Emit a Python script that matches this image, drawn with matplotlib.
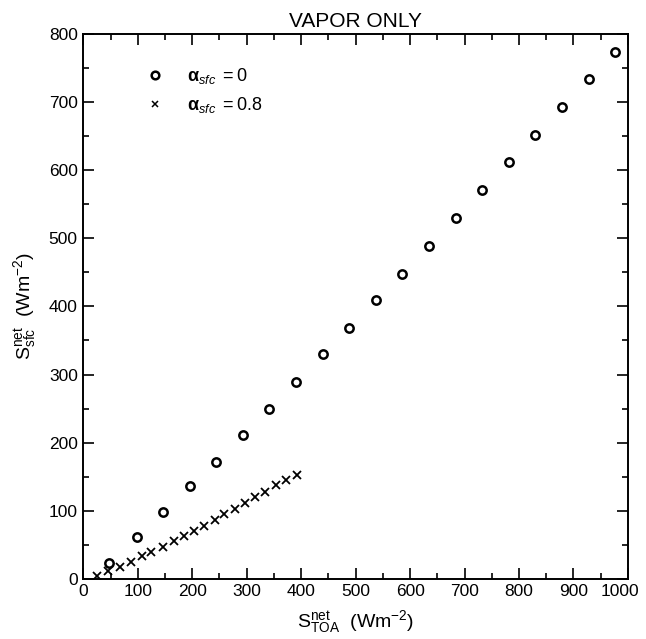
import matplotlib
matplotlib.use("Agg")
import matplotlib.pyplot as plt
import matplotlib.transforms as mtransforms
from matplotlib.lines import Line2D
from matplotlib.ticker import MultipleLocator

plt.rcParams['font.family'] = ['Liberation Sans', 'DejaVu Sans']
plt.rcParams['mathtext.fontset'] = 'custom'
plt.rcParams['mathtext.rm'] = 'Liberation Sans'
plt.rcParams['mathtext.it'] = 'Liberation Sans:italic'
plt.rcParams['mathtext.bf'] = 'Liberation Sans:bold'

# Net shortwave at TOA vs surface, clear sky with water vapour only
toa_alb0 = [48, 99, 147, 195, 244, 293, 341, 391, 440, 488,
            537, 586, 635, 684, 732, 781, 830, 879, 928, 976]
sfc_alb0 = [24, 62, 98, 136, 171, 211, 249, 289, 330, 368,
            409, 448, 489, 530, 571, 612, 651, 693, 734, 773]

toa_alb08 = [25, 46, 67, 87, 107, 125, 146, 166, 184, 203,
             221, 241, 259, 278, 296, 315, 334, 353, 372, 393]
sfc_alb08 = [4, 11, 18, 25, 33, 40, 47, 56, 63, 71,
             78, 87, 95, 103, 111, 120, 128, 138, 145, 153]

x_ticks = list(range(0, 1001, 100))
y_ticks = list(range(0, 801, 100))

fig = plt.figure(figsize=(6.46, 6.39), dpi=100)
ax = fig.add_axes([0.129, 0.094, 0.843, 0.853])

ax.plot(toa_alb0, sfc_alb0, linestyle='none', marker='o', markersize=6,
        markerfacecolor='none', markeredgecolor='black', markeredgewidth=1.8)
ax.plot(toa_alb08, sfc_alb08, linestyle='none', marker='x', markersize=5.5,
        color='black', markeredgewidth=1.3)

ax.set_xlim(0, 1000)
ax.set_ylim(0, 800)
ax.set_xticks(x_ticks)
ax.set_yticks(y_ticks)
ax.xaxis.set_minor_locator(MultipleLocator(50))
ax.yaxis.set_minor_locator(MultipleLocator(50))
ax.tick_params(which='both', direction='in', top=True, right=True,
               width=1.2, labelsize=12.5)
ax.tick_params(which='major', length=8, pad=4)
ax.tick_params(which='minor', length=4)
for s in ax.spines.values():
    s.set_linewidth(1.4)

# keep the last x tick label inside the figure
last = ax.get_xticklabels()[-1]
last.set_transform(last.get_transform() +
                   mtransforms.ScaledTranslation(-6 / 72, 0, fig.dpi_scale_trans))

ax.set_title('VAPOR ONLY', fontsize=15, pad=5)
ax.set_xlabel(r'S$^{\rm net}_{\rm TOA}$  (Wm$^{-2}$)', fontsize=14, labelpad=6)
ax.set_ylabel(r'S$^{\rm net}_{\rm sfc}$  (Wm$^{-2}$)', fontsize=14, labelpad=8)

handles = [
    Line2D([], [], linestyle='none', marker='o', markersize=5.5,
           markerfacecolor='none', markeredgecolor='black', markeredgewidth=1.8),
    Line2D([], [], linestyle='none', marker='x', markersize=5,
           color='black', markeredgewidth=1.1),
]
labels = [r'$\mathbf{\alpha}_{\it sfc}$ $\it =0$',
          r'$\mathbf{\alpha}_{\it sfc}$ $\it =0.8$']
ax.legend(handles, labels, loc='upper left', bbox_to_anchor=(0.085, 0.97),
          frameon=False, fontsize=13, handletextpad=1.3, labelspacing=0.5,
          handlelength=1.0)

fig.savefig('out.png', dpi=100)
